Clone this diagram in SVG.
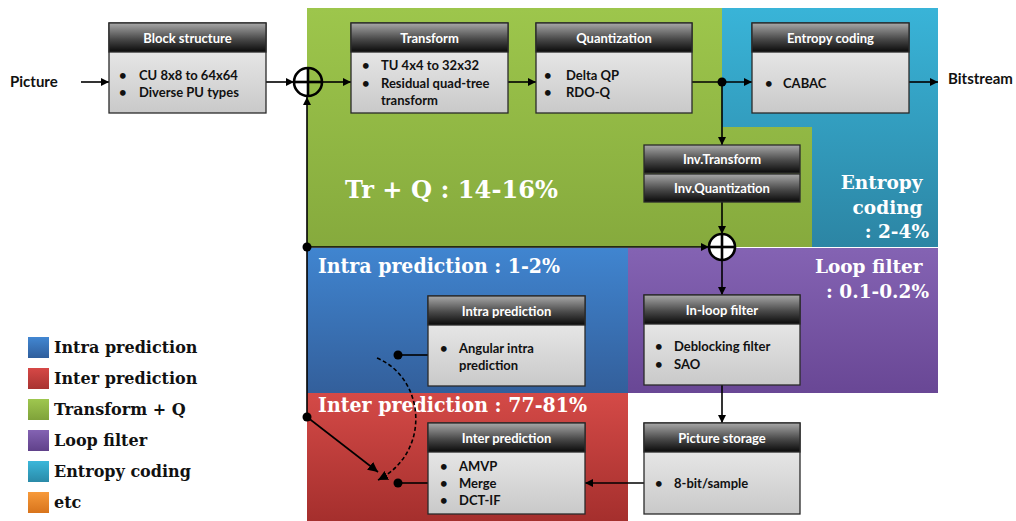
<svg xmlns="http://www.w3.org/2000/svg" width="1016" height="521" viewBox="0 0 1016 521">
  <defs>
    <linearGradient id="gGreen" gradientUnits="userSpaceOnUse" x1="0" y1="8" x2="0" y2="247">
      <stop offset="0" stop-color="#9dc64c"/>
      <stop offset="1" stop-color="#86aa3d"/>
    </linearGradient>
    <linearGradient id="gTeal" gradientUnits="userSpaceOnUse" x1="0" y1="8" x2="0" y2="247">
      <stop offset="0" stop-color="#39b4d8"/>
      <stop offset="1" stop-color="#2c85a4"/>
    </linearGradient>
    <linearGradient id="gBlue" gradientUnits="userSpaceOnUse" x1="0" y1="248" x2="0" y2="393">
      <stop offset="0" stop-color="#4085d0"/>
      <stop offset="1" stop-color="#335f9b"/>
    </linearGradient>
    <linearGradient id="gPurple" gradientUnits="userSpaceOnUse" x1="0" y1="248" x2="0" y2="393">
      <stop offset="0" stop-color="#8463b3"/>
      <stop offset="1" stop-color="#694795"/>
    </linearGradient>
    <linearGradient id="gRed" gradientUnits="userSpaceOnUse" x1="0" y1="393" x2="0" y2="521">
      <stop offset="0" stop-color="#d44a47"/>
      <stop offset="1" stop-color="#a52f2d"/>
    </linearGradient>
    <linearGradient id="gHead" x1="0" y1="0" x2="0" y2="1">
      <stop offset="0" stop-color="#a8a8a8"/>
      <stop offset="0.55" stop-color="#4a4a4a"/>
      <stop offset="1" stop-color="#0a0a0a"/>
    </linearGradient>
    <linearGradient id="gBody" x1="0" y1="0" x2="0" y2="1">
      <stop offset="0" stop-color="#f3f3f3"/>
      <stop offset="1" stop-color="#c9c9c9"/>
    </linearGradient>
    <linearGradient id="lgBlue" x1="0" y1="0" x2="0" y2="1"><stop offset="0" stop-color="#4287d2"/><stop offset="1" stop-color="#2f5e9c"/></linearGradient>
    <linearGradient id="lgRed" x1="0" y1="0" x2="0" y2="1"><stop offset="0" stop-color="#d64846"/><stop offset="1" stop-color="#a83331"/></linearGradient>
    <linearGradient id="lgGreen" x1="0" y1="0" x2="0" y2="1"><stop offset="0" stop-color="#9fc74f"/><stop offset="1" stop-color="#7fa23a"/></linearGradient>
    <linearGradient id="lgPurple" x1="0" y1="0" x2="0" y2="1"><stop offset="0" stop-color="#8463b3"/><stop offset="1" stop-color="#60418a"/></linearGradient>
    <linearGradient id="lgTeal" x1="0" y1="0" x2="0" y2="1"><stop offset="0" stop-color="#3bb7da"/><stop offset="1" stop-color="#2a8aa8"/></linearGradient>
    <linearGradient id="lgOrange" x1="0" y1="0" x2="0" y2="1"><stop offset="0" stop-color="#f79a3a"/><stop offset="1" stop-color="#d8741c"/></linearGradient>
    <marker id="arrow" viewBox="0 0 10 10" refX="10" refY="5" markerWidth="8" markerHeight="8" markerUnits="userSpaceOnUse" orient="auto">
      <path d="M0,0 L10,5 L0,10 Z" fill="#000"/>
    </marker>
    <marker id="arrowBig" viewBox="0 0 10 10" refX="10" refY="5" markerWidth="10" markerHeight="10" markerUnits="userSpaceOnUse" orient="auto">
      <path d="M0,0 L10,5 L0,10 Z" fill="#000"/>
    </marker>
  </defs>
  <style>
    .head { fill: url(#gHead); stroke: #2a2a2a; stroke-width: 1.3; }
    .body { fill: url(#gBody); stroke: #2a2a2a; stroke-width: 1.3; }
    .htxt { font-family: Lato, "Open Sans", sans-serif; font-weight: bold; font-size: 13px; fill: #fff; text-anchor: middle; }
    .btxt { font-family: Lato, "Open Sans", sans-serif; font-weight: bold; font-size: 13px; fill: #111; }
    .plain { font-family: Lato, "Open Sans", sans-serif; font-weight: bold; font-size: 15px; fill: #111; }
    .region { font-family: "DejaVu Serif", serif; font-weight: bold; fill: #fff; }
    .legend { font-family: "DejaVu Serif", serif; font-weight: bold; font-size: 16px; fill: #111; }
    .wire { stroke: #000; stroke-width: 1.6; fill: none; }
    .dot { fill: #000; }
    .sum { stroke: #000; stroke-width: 2.6; }
  </style>

  <!-- coloured regions -->
  <g id="regions">
    <path d="M307,8 H722 V127 H812 V247 H307 Z" fill="url(#gGreen)"/>
    <path d="M722,8 H938 V247 H812 V127 H722 Z" fill="url(#gTeal)"/>
    <rect x="307" y="248" width="321" height="145" fill="url(#gBlue)"/>
    <rect x="628" y="248" width="310" height="145" fill="url(#gPurple)"/>
    <rect x="307" y="393" width="321" height="128" fill="url(#gRed)"/>
  </g>

  <!-- region labels -->
  <g id="region-labels">
    <text class="region" x="345" y="198" font-size="25" textLength="213" lengthAdjust="spacingAndGlyphs">Tr + Q : 14-16%</text>
    <text class="region" x="318" y="273" font-size="20" textLength="242" lengthAdjust="spacingAndGlyphs">Intra prediction : 1-2%</text>
    <text class="region" x="318" y="412" font-size="20" textLength="269" lengthAdjust="spacingAndGlyphs">Inter prediction : 77-81%</text>
    <text class="region" font-size="18.5" text-anchor="end">
      <tspan x="929" y="189">Entropy</tspan>
      <tspan x="929" y="214">coding</tspan>
      <tspan x="929" y="238">: 2-4%</tspan>
    </text>
    <text class="region" font-size="18.5" text-anchor="end">
      <tspan x="929" y="273">Loop filter</tspan>
      <tspan x="929" y="298">: 0.1-0.2%</tspan>
    </text>
  </g>

  <!-- connectors -->
  <g id="connectors">
    <line class="wire" x1="81" y1="82" x2="109" y2="82" marker-end="url(#arrow)"/>
    <line class="wire" x1="266" y1="82" x2="294" y2="82" marker-end="url(#arrow)"/>
    <line class="wire" x1="322" y1="82" x2="351" y2="82" marker-end="url(#arrow)"/>
    <line class="wire" x1="508" y1="82" x2="536" y2="82" marker-end="url(#arrow)"/>
    <line class="wire" x1="692" y1="82" x2="752" y2="82" marker-end="url(#arrow)"/>
    <line class="wire" x1="909" y1="82" x2="938" y2="82" marker-end="url(#arrow)"/>
    <line class="wire" x1="722" y1="82" x2="722" y2="145" marker-end="url(#arrow)"/>
    <line class="wire" x1="722" y1="202" x2="722" y2="234" marker-end="url(#arrow)"/>
    <line class="wire" x1="307" y1="417" x2="307" y2="97" marker-end="url(#arrow)"/>
    <line class="wire" x1="307" y1="247" x2="709" y2="247" marker-end="url(#arrow)"/>
    <line class="wire" x1="722" y1="260" x2="722" y2="295" marker-end="url(#arrow)"/>
    <line class="wire" x1="722" y1="385" x2="722" y2="423" marker-end="url(#arrow)"/>
    <line class="wire" x1="644" y1="483" x2="585" y2="483" marker-end="url(#arrow)"/>
    <line class="wire" x1="398" y1="355" x2="428" y2="355"/>
    <line class="wire" x1="398" y1="483" x2="428" y2="483"/>
    <line class="wire" x1="307" y1="417" x2="378" y2="472" marker-end="url(#arrowBig)"/>
    <path class="wire" d="M377,358 C425,378 432,452 378,480" stroke-dasharray="4,2.5" marker-end="url(#arrowBig)"/>
    <circle class="dot" cx="722" cy="82" r="4.5"/>
    <circle class="dot" cx="307" cy="247" r="4.5"/>
    <circle class="dot" cx="307" cy="417" r="4.5"/>
    <circle class="dot" cx="398" cy="355" r="4.5"/>
    <circle class="dot" cx="398" cy="483" r="4.5"/>
  </g>

  <!-- summing junctions -->
  <g id="sum-input">
    <circle class="sum" cx="308" cy="82" r="14" fill="none"/>
    <line class="sum" x1="294" y1="82" x2="322" y2="82"/>
    <line class="sum" x1="308" y1="68" x2="308" y2="96"/>
  </g>
  <g id="sum-recon">
    <circle class="sum" cx="722" cy="247" r="13" fill="#fff"/>
    <line class="sum" x1="709" y1="247" x2="735" y2="247"/>
    <line class="sum" x1="722" y1="234" x2="722" y2="260"/>
  </g>

  <!-- terminals -->
  <g id="picture-in"><text class="plain" x="10" y="87">Picture</text></g>
  <g id="bitstream-out"><text class="plain" x="948" y="84" font-size="15.5">Bitstream</text></g>

  <!-- process blocks -->
  <g id="block-structure">
    <rect class="body" x="109" y="23" width="157" height="90"/>
    <rect class="head" x="109" y="23" width="157" height="29"/>
    <text class="htxt" x="187.5" y="42.5">Block structure</text>
    <text class="btxt"><tspan x="119" y="80">•</tspan><tspan x="139" y="80">CU 8x8 to 64x64</tspan></text>
    <text class="btxt"><tspan x="119" y="97">•</tspan><tspan x="139" y="97">Diverse PU types</tspan></text>
  </g>

  <g id="transform">
    <rect class="body" x="351" y="23" width="157" height="90"/>
    <rect class="head" x="351" y="23" width="157" height="29"/>
    <text class="htxt" x="429.5" y="42.5">Transform</text>
    <text class="btxt"><tspan x="362" y="70">•</tspan><tspan x="381" y="70">TU 4x4 to 32x32</tspan></text>
    <text class="btxt"><tspan x="362" y="88">•</tspan><tspan x="381" y="88">Residual quad-tree</tspan></text>
    <text class="btxt"><tspan x="381" y="105">transform</tspan></text>
  </g>

  <g id="quantization">
    <rect class="body" x="536" y="23" width="156" height="90"/>
    <rect class="head" x="536" y="23" width="156" height="29"/>
    <text class="htxt" x="614" y="42.5">Quantization</text>
    <text class="btxt"><tspan x="544" y="80">•</tspan><tspan x="566" y="80">Delta QP</tspan></text>
    <text class="btxt"><tspan x="544" y="97">•</tspan><tspan x="566" y="97">RDO-Q</tspan></text>
  </g>

  <g id="entropy-coding">
    <rect class="body" x="752" y="23" width="157" height="90"/>
    <rect class="head" x="752" y="23" width="157" height="29"/>
    <text class="htxt" x="830.5" y="42.5">Entropy coding</text>
    <text class="btxt"><tspan x="765" y="88">•</tspan><tspan x="783" y="88">CABAC</tspan></text>
  </g>

  <g id="inverse-transform">
    <rect class="head" x="644" y="145" width="156" height="28"/>
    <text class="htxt" x="722" y="164">Inv.Transform</text>
  </g>
  <g id="inverse-quantization">
    <rect class="head" x="644" y="174" width="156" height="28"/>
    <text class="htxt" x="722" y="193">Inv.Quantization</text>
  </g>

  <g id="intra-prediction">
    <rect class="body" x="428" y="296" width="157" height="90"/>
    <rect class="head" x="428" y="296" width="157" height="29"/>
    <text class="htxt" x="506.5" y="315.5">Intra prediction</text>
    <text class="btxt"><tspan x="440" y="353">•</tspan><tspan x="459" y="353">Angular intra</tspan></text>
    <text class="btxt"><tspan x="459" y="370">prediction</tspan></text>
  </g>

  <g id="inter-prediction">
    <rect class="body" x="428" y="423" width="157" height="91"/>
    <rect class="head" x="428" y="423" width="157" height="29"/>
    <text class="htxt" x="506.5" y="442.5">Inter prediction</text>
    <text class="btxt"><tspan x="440" y="471">•</tspan><tspan x="459" y="471">AMVP</tspan></text>
    <text class="btxt"><tspan x="440" y="488">•</tspan><tspan x="459" y="488">Merge</tspan></text>
    <text class="btxt"><tspan x="440" y="505">•</tspan><tspan x="459" y="505">DCT-IF</tspan></text>
  </g>

  <g id="in-loop-filter">
    <rect class="body" x="644" y="295" width="156" height="90"/>
    <rect class="head" x="644" y="295" width="156" height="29"/>
    <text class="htxt" x="722" y="314.5">In-loop filter</text>
    <text class="btxt"><tspan x="655" y="351">•</tspan><tspan x="674" y="351">Deblocking filter</tspan></text>
    <text class="btxt"><tspan x="655" y="369">•</tspan><tspan x="674" y="369">SAO</tspan></text>
  </g>

  <g id="picture-storage">
    <rect class="body" x="644" y="423" width="156" height="91"/>
    <rect class="head" x="644" y="423" width="156" height="29"/>
    <text class="htxt" x="722" y="442.5">Picture storage</text>
    <text class="btxt"><tspan x="655" y="488">•</tspan><tspan x="674" y="488">8-bit/sample</tspan></text>
  </g>

  <!-- legend -->
  <g id="legend">
    <rect x="28" y="337" width="21" height="21" fill="url(#lgBlue)"/>
    <text class="legend" x="54" y="353">Intra prediction</text>
    <rect x="28" y="368" width="21" height="21" fill="url(#lgRed)"/>
    <text class="legend" x="54" y="384">Inter prediction</text>
    <rect x="28" y="399" width="21" height="21" fill="url(#lgGreen)"/>
    <text class="legend" x="54" y="415">Transform + Q</text>
    <rect x="28" y="430" width="21" height="21" fill="url(#lgPurple)"/>
    <text class="legend" x="54" y="446">Loop filter</text>
    <rect x="28" y="461" width="21" height="21" fill="url(#lgTeal)"/>
    <text class="legend" x="54" y="477">Entropy coding</text>
    <rect x="28" y="492" width="21" height="21" fill="url(#lgOrange)"/>
    <text class="legend" x="54" y="508">etc</text>
  </g>
</svg>
